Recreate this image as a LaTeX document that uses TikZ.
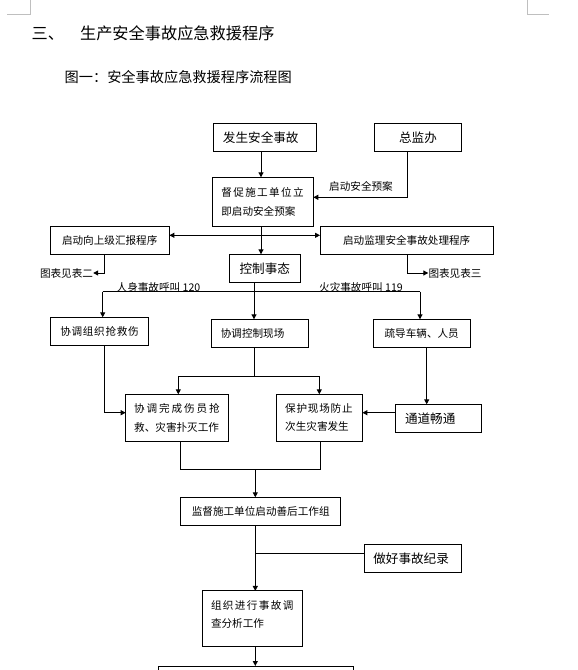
\documentclass[tikz,border=0pt]{standalone}
\usepackage{fontspec}
\setmainfont{Noto Sans CJK SC}
\usetikzlibrary{arrows.meta}
\makeatletter
\newcommand\spreadto[2]{\leavevmode\hbox to #1{\@tfor\sp@c:=#2\do{\sp@c\hfil}\unskip}}
\makeatother
\newcommand\fsz[2]{\fontsize{#1}{#2}\selectfont}
\begin{document}
\begin{tikzpicture}[x=1pt,y=-1pt,
  box/.style={draw, line width=1pt, inner sep=0pt, outer sep=0pt},
  sm/.style={font=\fsz{10.6}{18.3}},
  lg/.style={font=\fsz{12.6}{15}},
  lbl/.style={inner sep=0pt, font=\fsz{10.6}{12}},
  ln/.style={line width=1pt},
  arr/.style={ln, -{Triangle[length=5pt,width=5pt]}},
  darr/.style={ln, {Triangle[length=5pt,width=5pt]}-{Triangle[length=5pt,width=5pt]}},
  cornermark/.style={draw=black!25, line width=0.8pt}
]
\useasboundingbox (0,0) rectangle (578,670);
\clip (0,0) rectangle (578,670);
\fill[white] (0,0) rectangle (578,670);

% page corner marks
\draw[cornermark] (7.3,14.3) -- (30,14.3) -- (30,0);
\draw[cornermark] (527.7,0) -- (527.7,14.3) -- (549,14.3);

% titles
\node[anchor=west, inner sep=0pt, font=\fsz{16.2}{18}] (title) at (31.5,33.5) {三、\hspace{16pt}生产安全事故应急救援程序};
\node[anchor=west, inner sep=0pt, font=\fsz{14.2}{16}] (subtitle) at (64.5,77) {图一：安全事故应急救援程序流程图};

% boxes
\node[box, lg, minimum width=102.7pt, minimum height=28.4pt, text width=84.7pt, align=left] (fs) at (265.3,137.5) {发生安全事故};
\node[box, lg, minimum width=87.4pt, minimum height=28.4pt] (zjb) at (418,137.5) {总监办};
\node[box, sm, minimum width=101pt, minimum height=49pt, text width=83pt, align=left] (dc) at (262.8,201.8) {\spreadto{82.5pt}{督促施工单位立}\\即启动安全预案};
\node[box, sm, minimum width=119.3pt, minimum height=28pt] (sb) at (109.7,240.3) {启动向上级汇报程序};
\node[box, sm, minimum width=173.3pt, minimum height=28pt] (jl) at (406.7,240.3) {启动监理安全事故处理程序};
\node[box, lg, minimum width=71pt, minimum height=28.4pt] (kz) at (264.8,268.5) {控制事态};
\node[box, sm, minimum width=97.6pt, minimum height=28pt] (zz) at (99.5,331.3) {\spreadto{78.5pt}{协调组织抢救伤}};
\node[box, sm, minimum width=97pt, minimum height=28.4pt, text width=78pt, align=left] (kc) at (259.8,333.5) {协调控制现场};
\node[box, sm, minimum width=96.7pt, minimum height=28.4pt] (sd) at (421.7,333.5) {疏导车辆、人员};
\node[box, sm, minimum width=103pt, minimum height=47pt, text width=86pt, align=left] (wc) at (177.2,417.8) {\spreadto{85.5pt}{协调完成伤员抢}\\救、灾害扑灭工作};
\node[box, sm, minimum width=86.3pt, minimum height=47pt, text width=68pt, align=left] (bh) at (319.2,417.8) {\spreadto{67.5pt}{保护现场防止}\\次生灾害发生};
\node[box, lg, minimum width=86pt, minimum height=28.4pt, text width=67.4pt, align=left] (td) at (438.7,418.5) {通道畅通};
\node[box, sm, minimum width=160pt, minimum height=28.4pt] (jd) at (260.7,511.5) {监督施工单位启动善后工作组};
\node[box, lg, minimum width=97.4pt, minimum height=28pt, text width=79.4pt, align=left] (zh) at (413,558.3) {做好事故纪录};
\node[box, minimum width=100pt, minimum height=55.7pt] (dy) at (252.7,618.8) {};
\node[sm, inner sep=0pt, text width=83pt, align=left] (dyt) at (252.5,614.2) {\spreadto{82.5pt}{组织进行事故调}\\查分析工作};
\node[box, minimum width=195pt, minimum height=34pt] (last) at (255.8,683) {};

% labels
\node[lbl] (lb1) at (361,186.5) {启动安全预案};
\node[lbl] (t2) at (66.5,273) {图表见表二};
\node[lbl] (t3) at (455,273) {图表见表三};
\node[lbl] (lb120) at (158.5,287) {人身事故呼叫 120};
\node[lbl] (lb119) at (361,287) {火灾事故呼叫 119};

% helper coordinates
\coordinate (s1) at (261,0);
\coordinate (p1) at (407.7,197.3);
\coordinate (h1) at (261,235.3);
\coordinate (p2) at (104.3,273);
\coordinate (p2r) at (407.3,273);
\coordinate (h2l) at (102.7,291.7);
\coordinate (h2r) at (420,291.7);
\coordinate (s4) at (254,291.7);
\coordinate (p3) at (104.3,412.7);
\coordinate (h3l) at (178.3,376);
\coordinate (h3m) at (254,376);
\coordinate (h3r) at (319.3,376);
\coordinate (s5) at (426.7,0);
\coordinate (p4) at (380,412.7);
\coordinate (h4l) at (180.7,469);
\coordinate (h4m) at (255.3,469);
\coordinate (h4r) at (320.7,469);
\coordinate (j1) at (255.3,553.3);

% connectors
\draw[arr] (fs.south -| s1) -- (dc.north -| s1);
\draw[arr] (zjb.south -| p1) -- (p1) -- (dc.east |- p1);
\draw[arr] (dc.south -| s1) -- (kz.north -| s1);
\draw[darr] (sb.east |- h1) -- (jl.west |- h1);
\draw[arr] (sb.south -| p2) -- (p2) -- (t2.east);
\draw[arr] (jl.south -| p2r) -- (p2r) -- (t3.west);
\draw[arr] (kz.south -| s4) -- (kc.north -| s4);
\draw[ln] (h2l) -- (h2r);
\draw[arr] (h2l) -- (zz.north -| h2l);
\draw[arr] (h2r) -- (sd.north -| h2r);
\draw[arr] (zz.south -| p3) -- (p3) -- (wc.west |- p3);
\draw[ln] (kc.south -| h3m) -- (h3m);
\draw[ln] (h3l) -- (h3r);
\draw[arr] (h3l) -- (wc.north -| h3l);
\draw[arr] (h3r) -- (bh.north -| h3r);
\draw[arr] (sd.south -| s5) -- (td.north -| s5);
\draw[arr] (td.west |- p4) -- (bh.east |- p4);
\draw[ln] (wc.south -| h4l) -- (h4l) -- (h4r) -- (bh.south -| h4r);
\draw[arr] (h4m) -- (jd.north -| h4m);
\draw[arr] (jd.south -| h4m) -- (dy.north -| h4m);
\draw[ln] (zh.west |- j1) -- (j1);
\draw[arr] (dy.south -| h4m) -- (last.north -| h4m);
\end{tikzpicture}
\end{document}
